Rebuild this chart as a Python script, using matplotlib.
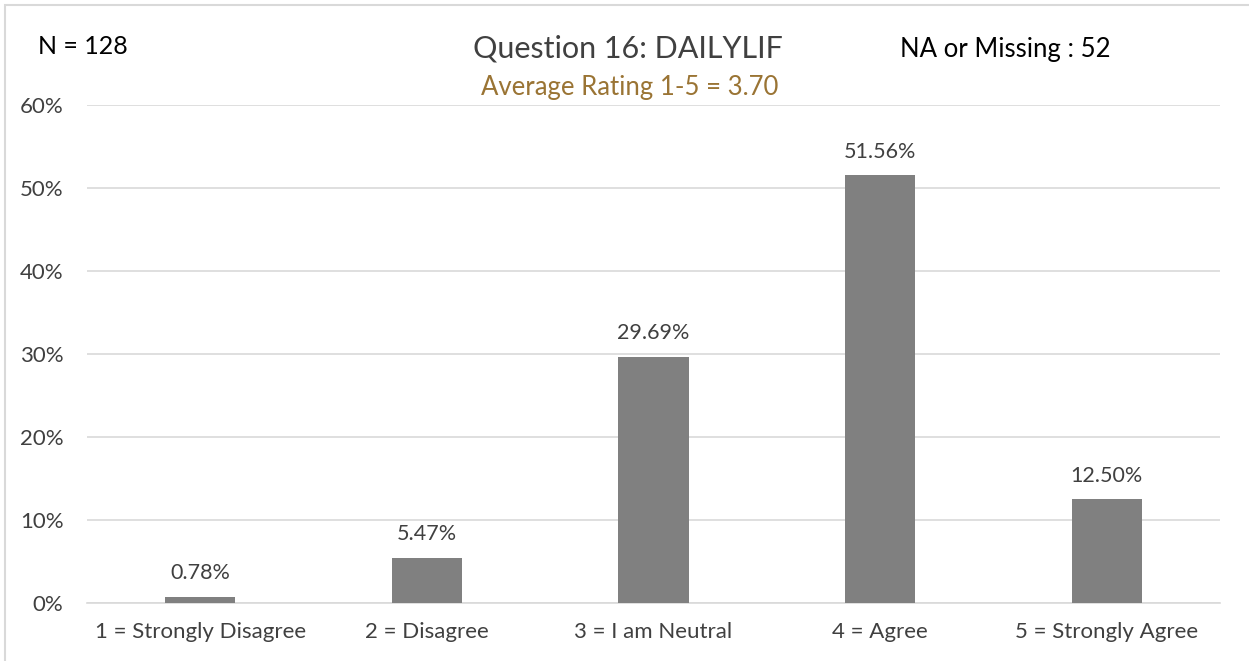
import numpy as np
import matplotlib.pyplot as plt
from matplotlib.patches import Rectangle
from matplotlib.ticker import FuncFormatter

# data
categories = ['1 = Strongly Disagree', '2 = Disagree', '3 = I am Neutral',
              '4 = Agree', '5 = Strongly Agree']
percents = [0.78, 5.47, 29.69, 51.56, 12.50]
n_total = 128
n_missing = 52
avg_rating = 3.70
question = 'Question 16: DAILYLIF'

plt.rcParams['font.family'] = ['Lato', 'DejaVu Sans']

fig = plt.figure(figsize=(12.49, 6.61), dpi=100)
ax = fig.add_axes([87 / 1249, 1 - 603 / 661, (1220 - 87) / 1249, (603 - 105) / 661])

x = np.arange(len(categories))
bars = ax.bar(x, percents, width=0.31, color='#808080', zorder=3)
for b, v in zip(bars, percents):
    ax.text(b.get_x() + b.get_width() / 2, v + 1.6, f'{v:.2f}%', ha='center', va='bottom',
            fontsize=15.5, color='#404040')

ax.set_xlim(-0.5, len(categories) - 0.5)
ax.set_ylim(0, 60)
ax.set_yticks(np.arange(0, 61, 10))
ax.yaxis.set_major_formatter(FuncFormatter(lambda v, p: f'{v:.0f}%'))
ax.set_xticks(x)
ax.set_xticklabels(categories)
ax.grid(axis='y', color='#d9d9d9', linewidth=1.2, zorder=0)
for s in ['top', 'right', 'left']:
    ax.spines[s].set_visible(False)
ax.spines['bottom'].set_color('#d9d9d9')
ax.spines['bottom'].set_linewidth(1.2)
ax.tick_params(axis='both', length=0, labelsize=16, colors='#404040')
ax.tick_params(axis='x', pad=14)
ax.tick_params(axis='y', pad=17)

fig.text(628 / 1249, 1 - 48 / 661, question, ha='center', va='center', fontsize=22, color='#404040')
fig.text(630 / 1249, 1 - 87 / 661, f'Average Rating 1-5 = {avg_rating:.2f}', ha='center', va='center',
         fontsize=18.5, color='#9a7434')
fig.text(38 / 1249, 1 - 47 / 661, f'N = {n_total}', ha='left', va='center', fontsize=18, color='black')
fig.text(900 / 1249, 1 - 50 / 661, f'NA or Missing : {n_missing}', ha='left', va='center',
         fontsize=18.5, color='black')

fig.patches.append(Rectangle((5 / 1249, -0.1), 1.2, 1 - 5 / 661 + 0.1, transform=fig.transFigure,
                             fill=False, edgecolor='#d9d9d9', linewidth=1.5))

fig.savefig('out.png', dpi=100)
